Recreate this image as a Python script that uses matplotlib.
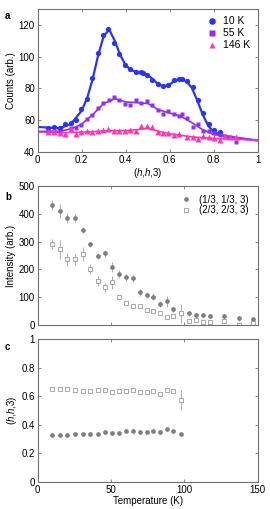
import matplotlib
matplotlib.use("Agg")
import matplotlib.pyplot as plt
from matplotlib.ticker import FuncFormatter

plt.rcParams['font.family'] = ['Liberation Sans', 'DejaVu Sans']
plt.rcParams['mathtext.fontset'] = 'custom'
plt.rcParams['mathtext.rm'] = 'Liberation Sans'
plt.rcParams['mathtext.it'] = 'Liberation Sans:italic'

# ---- panel a: scans along (h,h,3) ----
h10 = [0.045, 0.074, 0.10, 0.126, 0.15, 0.174, 0.198, 0.224, 0.248, 0.273, 0.297, 0.321,
       0.347, 0.371, 0.397, 0.421, 0.445, 0.471, 0.48, 0.495, 0.52, 0.545, 0.57, 0.594,
       0.618, 0.642, 0.656, 0.68, 0.705, 0.729, 0.753, 0.777, 0.803, 0.827]
c10 = [55.2, 55.6, 55.2, 57.3, 58.0, 60.4, 67.2, 73.5, 86.7, 102.5, 113.7, 117.7,
       108.8, 101.9, 94.7, 92.4, 90.5, 90.1, 89.5, 88.6, 85.5, 82.5, 81.5, 81.9,
       85.3, 85.7, 85.7, 84.4, 81.0, 72.6, 64.4, 57.3, 54.1, 52.6]

h55 = [0.045, 0.074, 0.10, 0.15, 0.174, 0.198, 0.226, 0.248, 0.273, 0.297, 0.323, 0.347,
       0.371, 0.397, 0.421, 0.445, 0.471, 0.495, 0.52, 0.545, 0.57, 0.594, 0.618, 0.642,
       0.656, 0.68, 0.705, 0.729, 0.753, 0.777, 0.80, 0.827, 0.85, 0.875, 0.90]
c55 = [53.0, 52.8, 52.5, 55.4, 55.4, 57.0, 61.0, 63.0, 67.8, 71.0, 72.6, 74.5,
       73.0, 70.0, 69.7, 72.4, 70.7, 72.0, 69.3, 66.7, 64.0, 65.7, 63.6, 62.5,
       64.0, 61.5, 55.6, 57.3, 53.5, 53.0, 52.0, 51.0, 50.0, 49.5, 46.1]

h146 = [0.045, 0.074, 0.10, 0.126, 0.15, 0.174, 0.198, 0.224, 0.248, 0.273, 0.297, 0.321,
        0.347, 0.371, 0.397, 0.421, 0.445, 0.471, 0.495, 0.52, 0.545, 0.57, 0.594, 0.618,
        0.642, 0.68, 0.705, 0.729, 0.753, 0.777, 0.803, 0.827, 0.85, 0.875, 0.90]
c146 = [52.4, 52.4, 51.9, 51.4, 54.5, 51.6, 52.6, 53.0, 52.4, 53.3, 54.1, 54.5,
        53.5, 53.0, 53.5, 53.9, 53.5, 56.2, 56.2, 55.6, 52.4, 51.9, 51.9, 50.7,
        51.4, 49.7, 49.3, 48.2, 49.9, 49.3, 48.8, 47.8, 49.9, 49.3, 49.5]

# fitted curves
fit10_h = [0, 0.05, 0.1, 0.15, 0.2, 0.225, 0.25, 0.275, 0.3, 0.325, 0.35, 0.375, 0.4,
           0.425, 0.45, 0.475, 0.5, 0.525, 0.55, 0.575, 0.6, 0.625, 0.65, 0.675, 0.7,
           0.725, 0.75, 0.775, 0.8, 0.85, 0.9, 1.0]
fit10_c = [55.8, 55.3, 55.0, 57.5, 66.0, 74.0, 86.0, 101.0, 113.0, 117.0, 110.0, 101.0, 94.5,
           91.5, 90.3, 89.7, 88.5, 85.5, 82.3, 81.3, 82.5, 85.0, 86.0, 84.5, 80.5,
           72.5, 63.5, 56.5, 52.5, 50.0, 49.0, 47.2]
fit_h = [0, 0.1, 0.15, 0.2, 0.25, 0.3, 0.35, 0.4, 0.45, 0.5, 0.55, 0.6, 0.65, 0.7,
         0.75, 0.8, 0.9, 1.0]
fit55_c = [53.0, 53.0, 54.5, 57.5, 63.5, 70.5, 73.5, 71.5, 71.0, 70.5, 66.5, 64.5, 62.5,
           58.5, 54.0, 51.0, 49.0, 47.3]
fit146_c = [52.5, 52.3, 52.3, 52.5, 52.8, 53.3, 53.5, 53.5, 54.0, 55.0, 53.0, 51.5, 50.5,
            49.5, 49.0, 48.5, 48.0, 47.3]

# ---- panels b, c: temperature dependence ----
T = [9.5, 15, 20.2, 25.5, 30.7, 35.7, 40.9, 45.7, 50.5, 55.5, 60.5, 65.2, 69.8, 74.3,
     78.9, 83.4, 88, 92.5, 98, 103, 108, 113, 117.5, 127, 137, 147]
I13 = [431, 411, 386, 384, 342, 290, 248, 258, 210, 183, 171, 168, 118, 108,
       102, 76, 86, 56, 42, 42, 35, 35, 32, 31, 24, 20]
I13_err = [18, 25, 18, 15, 12, 10, 12, 12, 18, 15, 14, 12, 12, 12,
           12, 10, 20, 10, 8, 8, 8, 8, 8, 8, 8, 8]
I23 = [290, 272, 236, 237, 254, 201, 158, 135, 153, 100, 80, 68, 67, 53,
       52, 42, 29, 32, 42, 14, 17, 12, 12, 16, 0, 6]
I23_err = [18, 35, 22, 20, 25, 17, 18, 15, 25, 6, 6, 6, 6, 6,
           6, 6, 6, 6, 35, 6, 6, 6, 6, 6, 6, 6]

Tc = T[:19]
h13 = [0.329, 0.329, 0.329, 0.336, 0.336, 0.333, 0.336, 0.347, 0.340, 0.345, 0.359, 0.357,
       0.350, 0.350, 0.357, 0.347, 0.371, 0.359, 0.336]
h13_err = [0.008] * 19
h23 = [0.650, 0.648, 0.650, 0.646, 0.639, 0.638, 0.641, 0.642, 0.627, 0.638, 0.638, 0.641,
       0.627, 0.627, 0.634, 0.615, 0.641, 0.634, 0.576]
h23_err = [0.008] * 18 + [0.07]

blue = '#2b35f0'
purple = '#9030e8'
pink = '#ff38b0'
grey = '#7f7f7f'
frame = '#707070'

fig = plt.figure(figsize=(2.7, 5.09), dpi=100)
L, W = 0.1396, 0.815
axa = fig.add_axes([L, 0.7014, W, 0.281])
axb = fig.add_axes([L, 0.3615, W, 0.273])
axc = fig.add_axes([L, 0.053, W, 0.281])

for ax in (axa, axb, axc):
    for s in ax.spines.values():
        s.set_color(frame)
        s.set_linewidth(0.8)
    ax.tick_params(direction='in', top=True, right=True, length=2.5, width=0.6,
                   color=frame, labelsize=7, pad=2)

fmt = FuncFormatter(lambda v, p: ('%g' % v))

# panel a
axa.plot(fit10_h, fit10_c, '-', color=blue, lw=1.6, zorder=2)
axa.plot(fit_h, fit55_c, '-', color=purple, lw=1.2, zorder=2)
axa.plot(fit_h, fit146_c, '-', color=pink, lw=1.2, zorder=2)
axa.plot(h10, c10, 'o', color=blue, ms=3.8, mec='none', label='10 K', zorder=3)
axa.plot(h55, c55, 's', color=purple, ms=3.4, mec='none', label='55 K', zorder=3)
axa.plot(h146, c146, '^', color=pink, ms=3.8, mec='none', label='146 K', zorder=4)
axa.set_xlim(0, 1)
axa.set_ylim(40, 130)
axa.set_xticks([0, 0.2, 0.4, 0.6, 0.8, 1])
axa.set_yticks([40, 60, 80, 100, 120])
axa.xaxis.set_major_formatter(fmt)
axa.set_xlabel(r'($\it{h}$,$\it{h}$,3)', fontsize=7, labelpad=1)
axa.set_ylabel('Counts (arb.)', fontsize=7, labelpad=2)
axa.legend(loc='upper right', frameon=False, fontsize=7.5, handlelength=1.0,
           handletextpad=0.6, labelspacing=0.2, borderaxespad=0.3, markerscale=1.25)

# panel b
eb1 = axb.errorbar(T, I13, yerr=I13_err, fmt='o', color=grey, ms=3.4, mec='none',
                   ecolor='#a0a0a0', elinewidth=0.6, capsize=0)
eb2 = axb.errorbar(T, I23, yerr=I23_err, fmt='s', color='#9a9a9a', mfc='white', ms=2.8,
                   mew=0.6, ecolor='#a0a0a0', elinewidth=0.6, capsize=0)
axb.set_xlim(0, 150)
axb.set_ylim(0, 500)
axb.set_xticks([0, 50, 100, 150])
axb.set_xticklabels([])
axb.set_yticks([0, 100, 200, 300, 400, 500])
axb.set_ylabel('Intensity (arb.)', fontsize=7, labelpad=2)
axb.legend([eb1[0], eb2[0]], ['(1/3, 1/3, 3)', '(2/3, 2/3, 3)'], loc='upper right',
           frameon=False, fontsize=7, handlelength=1.6, handletextpad=0.6,
           labelspacing=0.05, borderaxespad=0.5)

# panel c
axc.errorbar(Tc, h23, yerr=h23_err, fmt='s', color='#9a9a9a', mfc='white', ms=2.8,
             mew=0.6, ecolor='#a0a0a0', elinewidth=0.6, capsize=0)
axc.errorbar(Tc, h13, yerr=h13_err, fmt='o', color=grey, ms=3.4, mec='none',
             ecolor='#a0a0a0', elinewidth=0.6, capsize=0)
axc.set_xlim(0, 150)
axc.set_ylim(0, 1)
axc.set_xticks([0, 50, 100, 150])
axc.set_yticks([0, 0.2, 0.4, 0.6, 0.8, 1])
axc.yaxis.set_major_formatter(fmt)
axc.set_xlabel('Temperature (K)', fontsize=7, labelpad=1)
axc.set_ylabel(r'($\it{h}$,$\it{h}$,3)', fontsize=7, labelpad=2)

for lab, y in (('a', 16), ('b', 197), ('c', 347)):
    fig.text(5 / 270, 1 - y / 509, lab, fontsize=7, fontweight='bold',
             ha='left', va='center')

fig.savefig('out.png', dpi=100)
